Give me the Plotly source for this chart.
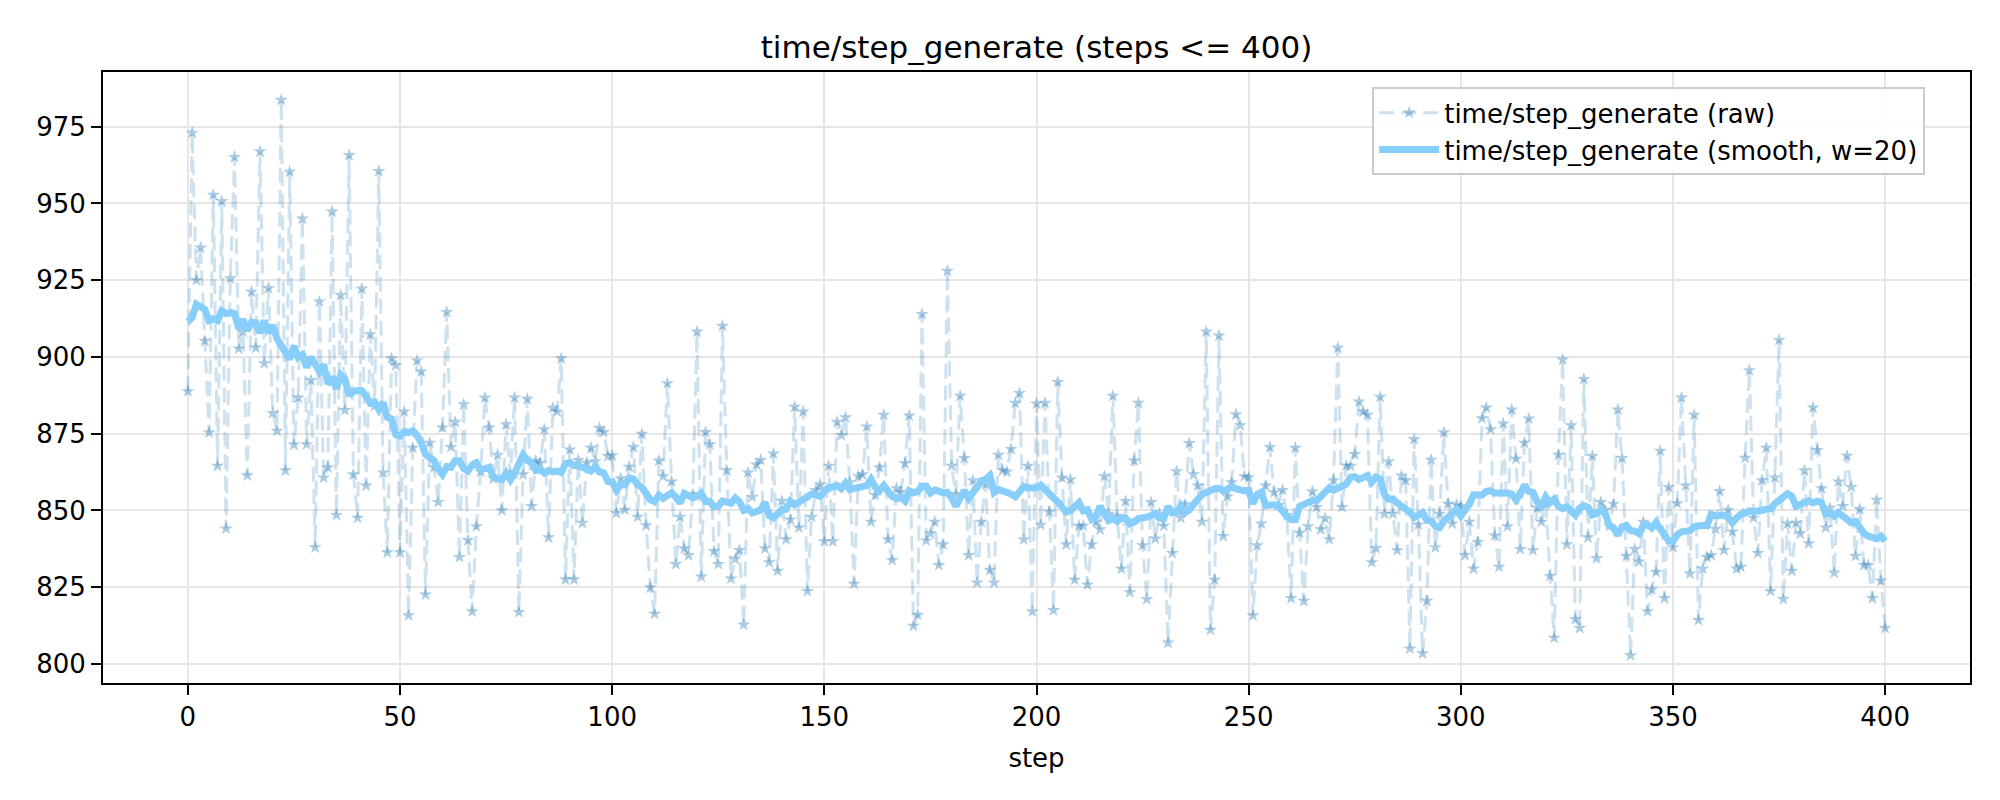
import pandas as pd
import plotly.graph_objects as go

# raw time/step_generate values, one per step (0..400)
steps = list(range(401))
raw = [
    888.8, 973.0, 925.0, 935.6, 905.2, 875.4, 952.8, 864.5, 950.7, 844.1,
    925.6, 965.1, 902.7, 908.2, 861.4, 921.2, 903.0, 966.9, 897.9, 922.4,
    881.7, 875.9, 983.7, 863.0, 960.3, 871.4, 886.7, 945.0, 871.5, 892.4,
    838.0, 918.0, 860.7, 864.0, 947.3, 848.5, 920.1, 882.7, 965.7, 861.7,
    847.6, 922.2, 858.1, 907.3, 884.0, 960.5, 862.3, 836.3, 899.5, 897.3,
    836.3, 882.2, 815.8, 870.4, 898.8, 895.2, 822.6, 872.0, 864.0, 852.7,
    877.0, 914.6, 870.6, 878.8, 834.8, 884.5, 840.3, 817.1, 844.8, 862.6,
    886.7, 877.0, 860.4, 868.1, 850.0, 878.0, 861.7, 886.7, 816.9, 861.7,
    886.3, 851.4, 866.2, 865.5, 876.4, 841.2, 883.4, 882.2, 899.5, 827.5,
    869.8, 827.5, 866.4, 845.9, 865.5, 870.4, 866.0, 876.8, 875.5, 867.7,
    867.9, 849.1, 860.4, 850.2, 864.2, 870.6, 847.9, 874.9, 845.1, 824.9,
    816.3, 866.2, 861.1, 891.4, 859.4, 832.5, 847.9, 837.6, 835.4, 855.3,
    908.2, 828.4, 875.5, 871.5, 836.7, 832.5, 910.1, 863.0, 827.8, 834.2,
    837.1, 812.8, 862.3, 854.4, 864.9, 866.4, 837.6, 833.1, 868.5, 830.3,
    853.1, 840.6, 847.0, 883.7, 844.4, 882.2, 823.7, 847.9, 856.6, 858.5,
    839.9, 864.5, 839.9, 878.8, 874.5, 880.3, 859.1, 826.1, 861.1, 861.7,
    877.3, 846.3, 855.0, 864.0, 881.1, 840.6, 833.8, 857.2, 856.0, 865.3,
    880.9, 812.4, 816.0, 913.9, 840.2, 842.5, 846.3, 832.2, 838.9, 928.0,
    864.5, 855.3, 887.3, 867.0, 835.4, 859.8, 826.5, 846.3, 858.5, 830.6,
    826.5, 868.1, 863.0, 862.6, 870.0, 885.0, 888.2, 840.6, 864.5, 817.1,
    884.8, 845.3, 885.0, 849.5, 817.5, 891.8, 860.7, 838.9, 860.1, 827.4,
    845.0, 845.0, 825.8, 838.9, 846.3, 843.8, 861.1, 848.9, 887.3, 848.2,
    831.0, 853.0, 823.3, 866.2, 885.0, 838.6, 821.1, 852.7, 840.8, 848.9,
    845.0, 806.9, 836.1, 862.7, 847.6, 852.0, 871.9, 861.7, 858.1, 846.3,
    908.2, 811.1, 827.4, 906.9, 841.6, 854.6, 859.1, 881.3, 877.7, 861.1,
    860.8, 815.8, 838.6, 845.7, 858.1, 870.6, 855.9, 851.7, 856.6, 848.5,
    821.4, 870.4, 842.7, 820.5, 844.8, 856.2, 851.1, 843.8, 847.4, 840.6,
    859.8, 902.9, 851.1, 864.6, 864.5, 868.3, 885.4, 882.2, 881.1, 833.1,
    837.7, 887.0, 848.9, 865.9, 848.9, 837.0, 861.3, 859.8, 805.0, 873.2,
    845.4, 803.4, 820.5, 866.5, 838.0, 848.9, 875.4, 852.1, 845.7, 851.8,
    851.4, 835.4, 846.3, 831.0, 839.7, 880.0, 883.5, 876.4, 841.8, 831.6,
    878.3, 844.8, 882.8, 866.8, 837.4, 872.0, 879.9, 837.0, 850.8, 846.3,
    852.0, 828.6, 808.5, 868.1, 899.1, 838.9, 877.7, 814.6, 811.7, 892.8,
    841.2, 867.7, 834.4, 852.7, 850.2, 845.0, 852.1, 882.8, 867.0, 835.1,
    802.8, 837.4, 833.3, 846.3, 817.1, 824.2, 829.9, 869.4, 821.4, 857.6,
    838.0, 852.3, 886.7, 858.1, 829.4, 881.1, 814.3, 831.0, 834.8, 835.4,
    844.0, 856.3, 837.1, 850.2, 843.1, 831.0, 831.6, 867.1, 895.6, 847.6,
    836.1, 859.8, 870.4, 823.7, 860.7, 905.5, 821.1, 845.7, 830.3, 845.9,
    842.5, 863.0, 839.3, 883.5, 869.6, 857.2, 844.4, 850.8, 829.7, 859.4,
    851.4, 867.8, 857.6, 835.1, 850.4, 832.2, 832.2, 821.4, 853.4, 827.1,
    811.7,
]
window = 20

# centred rolling mean, same as the "smooth, w=20" curve
smooth = pd.Series(raw).rolling(window, center=True, min_periods=1).mean()

raw_line = go.Scatter(
    x = steps,
    y = raw,
    mode = "lines+markers",
    line = dict(color="rgba(31,119,180,0.22)", width=3, dash="15px,7px"),
    marker = dict(symbol="star", size=10, color="rgba(31,119,180,0.38)",
                  line=dict(width=0)),
    name = "time/step_generate (raw)",
)
smooth_line = go.Scatter(
    x = steps,
    y = smooth,
    mode = "lines",
    line = dict(color="#87CEFA", width=7),
    name = f"time/step_generate (smooth, w={window})",
)

fig = go.Figure(data=[raw_line, smooth_line])

axis_common = dict(
    showline=True, linecolor="black", linewidth=2, mirror=True,
    ticks="outside", ticklen=10, tickwidth=2, tickcolor="black",
    showgrid=True, gridcolor="#e6e6e6", gridwidth=2,
    zeroline=False,
    tickfont=dict(family="DejaVu Sans", size=26, color="black"),
)
fig.update_xaxes(range=[-20, 420], dtick=50, tick0=0,
                 title=dict(text="step", standoff=18,
                            font=dict(family="DejaVu Sans", size=26, color="black")),
                 **axis_common)
fig.update_yaxes(range=[793.8, 992.8], dtick=25, tick0=800, **axis_common)

fig.update_layout(
    width=2000, height=800,
    margin=dict(l=103, r=30, t=72, b=117),
    paper_bgcolor="white", plot_bgcolor="white",
    font=dict(family="DejaVu Sans", color="black"),
    title=dict(text="time/step_generate (steps <= 400)", x=0.5, xref="paper",
               y=1 - 47 / 800, yanchor="middle",
               font=dict(family="DejaVu Sans", size=31, color="black")),
    legend=dict(x=0.976, xanchor="right", y=0.975, yanchor="top",
                bgcolor="rgba(255,255,255,0.85)", bordercolor="#cccccc", borderwidth=2,
                font=dict(family="DejaVu Sans", size=26, color="black"),
                itemwidth=60, tracegroupgap=0),
)
# drop the browser's default body margin so the figure sits at (0, 0)
fig.write_html("out.html", config={"displayModeBar": False},
               post_script="document.body.style.margin='0';")
